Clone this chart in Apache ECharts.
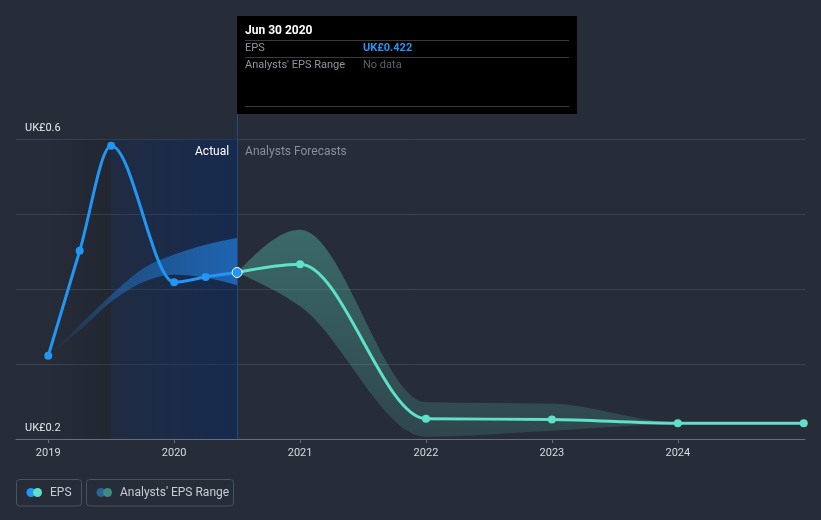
<!DOCTYPE html>
<html>
<head>
<meta charset="utf-8">
<script src="https://cdn.jsdelivr.net/npm/echarts@6/dist/echarts.min.js"></script>
<style>
html,body{margin:0;padding:0;background:#262c38;}
#c{width:821px;height:520px;}
</style>
</head>
<body>
<div id="c"></div>
<script>
// ---- data (decimal years) ----
const actualX = [2019.0, 2019.25, 2019.5, 2020.0, 2020.25, 2020.5];
const actualEPS = [0.311, 0.451, 0.591, 0.409, 0.416, 0.422];
const pastRangeX = [2019.0, 2019.25, 2019.5, 2019.75, 2020.0, 2020.25, 2020.5];
const pastRangeHigh = [0.311, 0.352, 0.392, 0.427, 0.446, 0.459, 0.468];
const pastRangeLow = [0.311, 0.345, 0.383, 0.409, 0.419, 0.415, 0.405];
const forecastX = [2020.5, 2021, 2022, 2023, 2024, 2025];
const forecastEPS = [0.422, 0.433, 0.227, 0.226, 0.221, 0.221];
const forecastHigh = [0.422, 0.479, 0.249, 0.247, 0.222, 0.221];
const forecastLow = [0.422, 0.377, 0.203, 0.211, 0.220, 0.221];
const yearTicks = [2019, 2020, 2021, 2022, 2023, 2024];
const yTickLabels = {0.2: 'UK£0.2', 0.6: 'UK£0.6'};
const tooltipDate = 'Jun 30 2020';
const tooltipEPS = 'UK£0.422';
const splitX = 2020.5;
const shadeStartX = 2019.0, shadeMidX = 2019.5;

const FONT = 'Roboto, "Noto Sans", sans-serif';
const EPS_BLUE = '#2196f3', FC_MINT = '#5fe0c8';

// monotone-x cubic segments through pixel points
function monoSegs(pts) {
  const n = pts.length, t = new Array(n).fill(0), s = [], h = [];
  for (let i = 0; i < n - 1; i++) { h[i] = pts[i+1][0] - pts[i][0]; s[i] = h[i] ? (pts[i+1][1] - pts[i][1]) / h[i] : 0; }
  for (let i = 1; i < n - 1; i++) {
    const s0 = s[i-1], s1 = s[i];
    if (s0 * s1 <= 0) { t[i] = 0; continue; }
    const p = (s0 * h[i] + s1 * h[i-1]) / (h[i-1] + h[i]);
    t[i] = (Math.sign(s0) + Math.sign(s1)) * Math.min(Math.abs(s0), Math.abs(s1), 0.5 * Math.abs(p));
  }
  if (n > 2) { t[0] = (3 * s[0] - t[1]) / 2; t[n-1] = (3 * s[n-2] - t[n-2]) / 2; }
  else if (n === 2) { t[0] = t[1] = s[0]; }
  const segs = [];
  for (let i = 0; i < n - 1; i++) {
    const dx = h[i] / 3;
    segs.push([pts[i], [pts[i][0] + dx, pts[i][1] + dx * t[i]], [pts[i+1][0] - dx, pts[i+1][1] - dx * t[i+1]], pts[i+1]]);
  }
  return segs;
}
function curvePath(pts) {
  let d = 'M' + pts[0][0] + ' ' + pts[0][1];
  monoSegs(pts).forEach(g => { d += 'C' + g[1][0] + ' ' + g[1][1] + ' ' + g[2][0] + ' ' + g[2][1] + ' ' + g[3][0] + ' ' + g[3][1]; });
  return d;
}
function bandPath(up, lo) {
  const sl = monoSegs(lo);
  let d = curvePath(up);
  const last = lo[lo.length - 1];
  d += 'L' + last[0] + ' ' + last[1];
  for (let i = sl.length - 1; i >= 0; i--) { const g = sl[i]; d += 'C' + g[2][0] + ' ' + g[2][1] + ' ' + g[1][0] + ' ' + g[1][1] + ' ' + g[0][0] + ' ' + g[0][1]; }
  return d + 'Z';
}
function bandSeries(name, xs, lows, highs, fill) {
  return {
    type: 'custom', name, silent: true, z: 1, clip: true,
    data: xs.map((x, i) => [x, lows[i], highs[i]]),
    encode: {x: 0, y: [1, 2]},
    renderItem: (params, api) => {
      if (params.dataIndex !== 0) return null;
      const up = xs.map((x, i) => api.coord([x, highs[i]]));
      const lo = xs.map((x, i) => api.coord([x, lows[i]]));
      return {type: 'path', shape: {pathData: bandPath(up, lo)}, style: {fill}};
    }
  };
}
function curveSeries(name, xs, ys, color, z) {
  return {
    type: 'custom', name, silent: true, z, clip: true,
    data: xs.map((x, i) => [x, ys[i]]),
    encode: {x: 0, y: 1},
    renderItem: (params, api) => {
      if (params.dataIndex !== 0) return null;
      const pts = xs.map((x, i) => api.coord([x, ys[i]]));
      return {type: 'path', shape: {pathData: curvePath(pts)},
        style: {fill: null, stroke: color, lineWidth: 3, lineJoin: 'round', lineCap: 'round'}};
    }
  };
}

const chart = echarts.init(document.getElementById('c'), null, {renderer: 'canvas'});

const option = {
  backgroundColor: '#262c38',
  animation: false,
  textStyle: {fontFamily: FONT},
  grid: {left: 16, right: 16, top: 139, bottom: 81, containLabel: false},
  xAxis: {
    type: 'value', min: 2018.744, max: 2025.01,
    axisLine: {show: true, lineStyle: {color: '#686e78', width: 1}},
    axisTick: {show: true, length: 4, lineStyle: {color: '#686e78'}, customValues: yearTicks},
    axisLabel: {color: '#d8dbe0', fontSize: 11, margin: 9, fontFamily: FONT,
      customValues: yearTicks, formatter: v => String(Math.round(v))},
    splitLine: {show: false}
  },
  yAxis: {
    type: 'value', min: 0.2, max: 0.6, interval: 0.1,
    axisLine: {show: false}, axisTick: {show: false},
    axisLabel: {inside: true, margin: 9, color: '#e6e8eb', fontSize: 11, fontFamily: FONT,
      verticalAlign: 'bottom', padding: [0, 0, 5, 0],
      formatter: v => { const k = Math.round(v * 10) / 10; return yTickLabels[k] || ''; }},
    splitLine: {lineStyle: {color: '#3c4350', width: 1}}
  },
  series: [
    {
      type: 'line', name: 'shade', data: [], z: 0, silent: true,
      markArea: {
        silent: true,
        data: [
          [{xAxis: shadeStartX, itemStyle: {color: {type: 'linear', x: 0, y: 0, x2: 1, y2: 0,
              colorStops: [{offset: 0, color: 'rgba(0,0,0,0.0)'}, {offset: 1, color: 'rgba(0,0,0,0.12)'}]}}},
           {xAxis: shadeMidX}],
          [{xAxis: shadeMidX, itemStyle: {color: {type: 'linear', x: 0, y: 0, x2: 1, y2: 0,
              colorStops: [{offset: 0, color: 'rgba(0,40,110,0.17)'}, {offset: 1, color: 'rgba(0,40,110,0.42)'}]}}},
           {xAxis: splitX}]
        ]
      },
      markLine: {
        silent: true, symbol: 'none', label: {show: false},
        lineStyle: {color: '#24497a', width: 1, type: 'solid'},
        data: [{xAxis: splitX}]
      }
    },
    bandSeries('Past range', pastRangeX, pastRangeLow, pastRangeHigh,
      new echarts.graphic.LinearGradient(0, 0, 1, 0, [
        {offset: 0, color: 'rgba(33,120,210,0.0)'},
        {offset: 0.35, color: 'rgba(33,120,210,0.45)'},
        {offset: 1, color: 'rgba(33,120,210,0.75)'}])),
    bandSeries("Analysts' EPS Range", forecastX, forecastLow, forecastHigh,
      new echarts.graphic.LinearGradient(0, 0, 0, 1, [
        {offset: 0, color: 'rgba(88,190,170,0.42)'},
        {offset: 1, color: 'rgba(88,190,170,0.18)'}])),
    curveSeries('Forecast EPS line', forecastX, forecastEPS, FC_MINT, 3),
    curveSeries('EPS line', actualX, actualEPS, EPS_BLUE, 4),
    {
      type: 'scatter', name: 'Forecast EPS', z: 5, silent: true,
      data: forecastX.slice(1).map((x, i) => [x, forecastEPS[i + 1]]),
      symbol: 'circle', symbolSize: 8, itemStyle: {color: FC_MINT, opacity: 1}
    },
    {
      type: 'scatter', name: 'EPS', z: 6, silent: true,
      data: actualX.map((x, i) => i === actualX.length - 1
        ? {value: [x, actualEPS[i]], symbolSize: 10, itemStyle: {color: EPS_BLUE, borderColor: '#ffffff', borderWidth: 1}}
        : [x, actualEPS[i]]),
      symbol: 'circle', symbolSize: 8, itemStyle: {color: EPS_BLUE, opacity: 1}
    }
  ]
};
chart.setOption(option);

// decorations anchored to the split date via the library's scale
const sx = chart.convertToPixel({xAxisIndex: 0}, splitX);
const gridTop = chart.convertToPixel({yAxisIndex: 0}, 0.6);
const tipL = Math.round(sx), tipT = 16, tipW = 340, tipH = 98;
const colX = tipL + 126;
const g = [
  {type: 'rect', shape: {x: tipL, y: tipT, width: tipW, height: tipH}, style: {fill: '#000000'}, z: 10},
  {type: 'text', x: tipL + 8, y: tipT + 15, style: {text: tooltipDate, fill: '#ffffff', font: 'bold 12px ' + FONT, textVerticalAlign: 'middle'}, z: 11},
  {type: 'line', shape: {x1: tipL + 8, y1: tipT + 24.5, x2: tipL + tipW - 8, y2: tipT + 24.5}, style: {stroke: '#3a3a3a', lineWidth: 1}, z: 11},
  {type: 'text', x: tipL + 8, y: tipT + 32.5, style: {text: 'EPS', fill: '#8f959e', font: '11px ' + FONT, textVerticalAlign: 'middle'}, z: 11},
  {type: 'text', x: colX, y: tipT + 32.5, style: {text: tooltipEPS, fill: EPS_BLUE, font: 'bold 11px ' + FONT, textVerticalAlign: 'middle'}, z: 11},
  {type: 'line', shape: {x1: tipL + 8, y1: tipT + 41.5, x2: tipL + tipW - 8, y2: tipT + 41.5}, style: {stroke: '#3a3a3a', lineWidth: 1}, z: 11},
  {type: 'text', x: tipL + 8, y: tipT + 49.5, style: {text: "Analysts' EPS Range", fill: '#8f959e', font: '11px ' + FONT, textVerticalAlign: 'middle'}, z: 11},
  {type: 'text', x: colX, y: tipT + 49.5, style: {text: 'No data', fill: '#5c626b', font: '11px ' + FONT, textVerticalAlign: 'middle'}, z: 11},
  {type: 'line', shape: {x1: tipL + 8, y1: tipT + 90.5, x2: tipL + tipW - 8, y2: tipT + 90.5}, style: {stroke: '#3a3a3a', lineWidth: 1}, z: 11},
  {type: 'line', shape: {x1: Math.round(sx) + 0.5, y1: tipT + tipH, x2: Math.round(sx) + 0.5, y2: gridTop}, style: {stroke: '#24497a', lineWidth: 1}, z: 9},
  {type: 'text', x: sx - 8, y: gridTop + 13, style: {text: 'Actual', fill: '#ffffff', font: '12px ' + FONT, textAlign: 'right', textVerticalAlign: 'middle'}, z: 11},
  {type: 'text', x: sx + 8, y: gridTop + 13, style: {text: 'Analysts Forecasts', fill: '#8a9099', font: '12px ' + FONT, textAlign: 'left', textVerticalAlign: 'middle'}, z: 11},
  // legend
  {type: 'rect', shape: {x: 16.5, y: 479.5, width: 65, height: 26.5, r: 3}, style: {fill: 'none', stroke: '#4b5260', lineWidth: 1}, z: 10},
  {type: 'circle', shape: {cx: 31, cy: 492.5, r: 4.5}, style: {fill: EPS_BLUE}, z: 11},
  {type: 'circle', shape: {cx: 37.5, cy: 492.5, r: 4.5}, style: {fill: FC_MINT}, z: 12},
  {type: 'text', x: 50, y: 492.5, style: {text: 'EPS', fill: '#c9cdd3', font: '12px ' + FONT, textVerticalAlign: 'middle'}, z: 11},
  {type: 'rect', shape: {x: 86.5, y: 479.5, width: 147, height: 26.5, r: 3}, style: {fill: 'none', stroke: '#4b5260', lineWidth: 1}, z: 10},
  {type: 'circle', shape: {cx: 101, cy: 492.5, r: 4.5}, style: {fill: '#2a6496'}, z: 11},
  {type: 'circle', shape: {cx: 107.5, cy: 492.5, r: 4.5}, style: {fill: '#3f8a85'}, z: 12},
  {type: 'text', x: 120, y: 492.5, style: {text: "Analysts' EPS Range", fill: '#c9cdd3', font: '12px ' + FONT, textVerticalAlign: 'middle'}, z: 11}
];
chart.setOption({graphic: g});
</script>
</body>
</html>
